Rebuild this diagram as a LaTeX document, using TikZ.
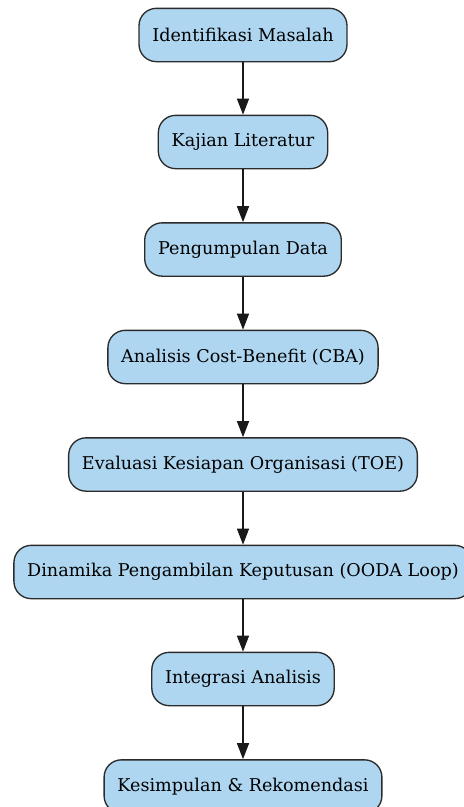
\documentclass[tikz,border=0pt]{standalone}
\usepackage{fontspec}
\setmainfont{DejaVu Serif}
\usetikzlibrary{arrows.meta}

\definecolor{boxfill}{HTML}{AED6F1}
\definecolor{boxline}{HTML}{2B2B2B}

\begin{document}
\begin{tikzpicture}[x=0.75pt, y=-0.75pt,
  stepbox/.style={draw=boxline, line width=1pt, fill=boxfill, rounded corners=13pt,
    minimum height=40pt, inner xsep=10pt, font=\fontsize{13.2}{15}\selectfont},
  flow/.style={draw=black!90, line width=1pt, -{Triangle[length=12pt, width=9pt]}}]

  \useasboundingbox (0, 0) rectangle (464, 807);

  % langkah-langkah penelitian
  \node[stepbox] (idm) at (243, 35)    {Identifikasi Masalah};
  \node[stepbox] (kjl) at (243, 142)   {Kajian Literatur};
  \node[stepbox] (pgd) at (243, 249.5) {Pengumpulan Data};
  \node[stepbox] (cba) at (243, 357)   {Analisis Cost-Benefit (CBA)};
  \node[stepbox] (toe) at (243, 464.5) {Evaluasi Kesiapan Organisasi (TOE)};
  \node[stepbox] (ood) at (243, 572)   {Dinamika Pengambilan Keputusan (OODA Loop)};
  \node[stepbox] (itg) at (243, 679)   {Integrasi Analisis};
  \node[stepbox] (ksr) at (243, 786.5) {Kesimpulan \& Rekomendasi};

  % alur
  \draw[flow] (idm) -- (kjl);
  \draw[flow] (kjl) -- (pgd);
  \draw[flow] (pgd) -- (cba);
  \draw[flow] (cba) -- (toe);
  \draw[flow] (toe) -- (ood);
  \draw[flow] (ood) -- (itg);
  \draw[flow] (itg) -- (ksr);
\end{tikzpicture}
\end{document}
